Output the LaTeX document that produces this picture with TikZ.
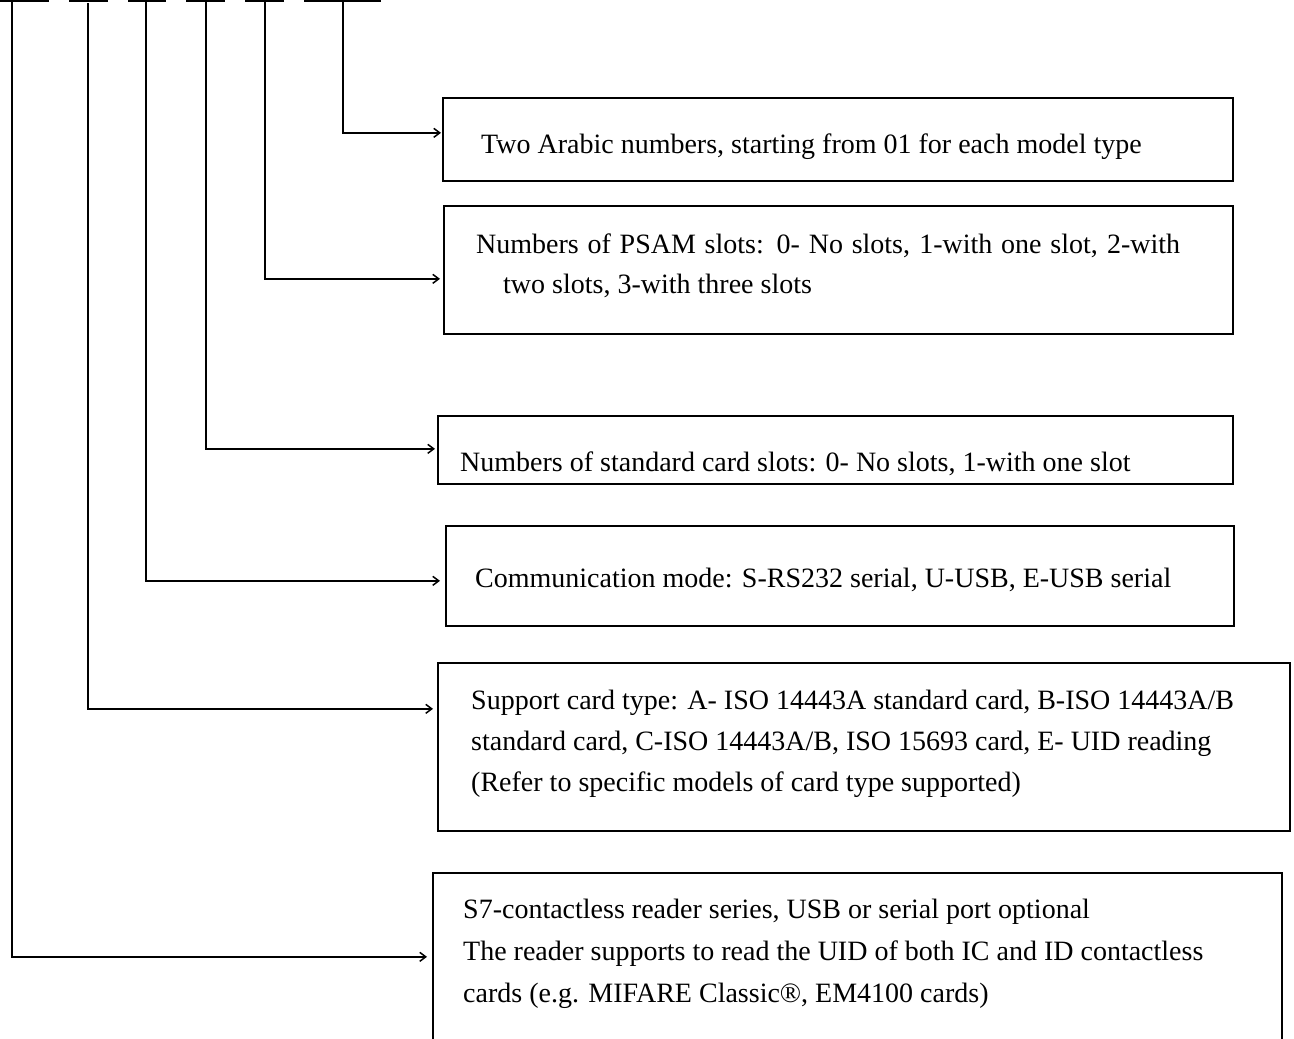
\documentclass[tikz,border=0pt]{standalone}
\usepackage{fontspec}
\setmainfont{Liberation Serif}
\usetikzlibrary{arrows.meta}
\begin{document}
\begin{tikzpicture}[x=1pt,y=-1pt,
  box/.style={draw,line width=1.7pt,rectangle,inner sep=0pt,anchor=north west},
  txt/.style={anchor=base west,inner sep=0pt,font=\fontsize{28}{33}\selectfont},
  conn/.style={line width=1.3pt,-{Straight Barb[length=6pt,width=9pt,line width=1.5pt]}},
  bar/.style={line width=1.9pt}]
\useasboundingbox (0,0) rectangle (1294,1039);
\clip (0,0) rectangle (1294,1039);
% top bars
\draw[bar] (0,1) -- (49,1);
\draw[bar] (69,1) -- (108,1);
\draw[bar] (128,1) -- (166,1);
\draw[bar] (186,1) -- (225,1);
\draw[bar] (245,1) -- (284,1);
\draw[bar] (304,1) -- (381,1);
\coordinate (t6) at (12,1);
\coordinate (t5) at (88,3);
\coordinate (t4) at (146,1);
\coordinate (t3) at (206,1);
\coordinate (t2) at (265,1);
\coordinate (t1) at (343,1);
% boxes
\node[box,minimum width=790pt,minimum height=83pt] (b1) at (442,97) {};
\node[box,minimum width=789pt,minimum height=128pt] (b2) at (443,205) {};
\node[box,minimum width=795pt,minimum height=68pt] (b3) at (437,415) {};
\node[box,minimum width=788pt,minimum height=100pt] (b4) at (445,525) {};
\node[box,minimum width=852pt,minimum height=168pt] (b5) at (437,662) {};
\node[box,minimum width=849pt,minimum height=200pt] (b6) at (432,872) {};
% texts
\node[txt] (x1) at (481,153) {Two Arabic numbers, starting from 01 for each model type};
\node[txt] (x2a) at (476,253) {\makebox[704pt][s]{Numbers of PSAM slots: 0- No slots, 1-with one slot, 2-with}};
\node[txt] (x2b) at (503,293) {two slots, 3-with three slots};
\node[txt] (x3) at (460,471) {Numbers of standard card slots: 0- No slots, 1-with one slot};
\node[txt] (x4) at (475,587) {Communication mode: S-RS232 serial, U-USB, E-USB serial};
\node[txt] (x5a) at (471,709) {Support card type: A- ISO 14443A standard card, B-ISO 14443A/B};
\node[txt] (x5b) at (471,750) {standard card, C-ISO 14443A/B, ISO 15693 card, E- UID reading};
\node[txt] (x5c) at (471,791) {(Refer to specific models of card type supported)};
\node[txt] (x6a) at (463,918) {S7-contactless reader series, USB or serial port optional};
\node[txt] (x6b) at (463,960) {The reader supports to read the UID of both IC and ID contactless};
\node[txt] (x6c) at (463,1002) {cards (e.g. MIFARE Classic®, EM4100 cards)};
% connectors
\draw[conn] (t1) |- ([xshift=-1pt,yshift=6.5pt]b1.west);
\draw[conn] (t2) |- ([xshift=-3pt,yshift=-9pt]b2.west);
\draw[conn] (t3) |- ([xshift=-2pt,yshift=1pt]b3.west);
\draw[conn] (t4) |- ([xshift=-5pt,yshift=-5pt]b4.west);
\draw[conn] (t5) |- ([xshift=-4pt,yshift=38pt]b5.west);
\draw[conn] (t6) |- ([xshift=-5pt,yshift=16pt]b6.west);
\end{tikzpicture}
\end{document}
